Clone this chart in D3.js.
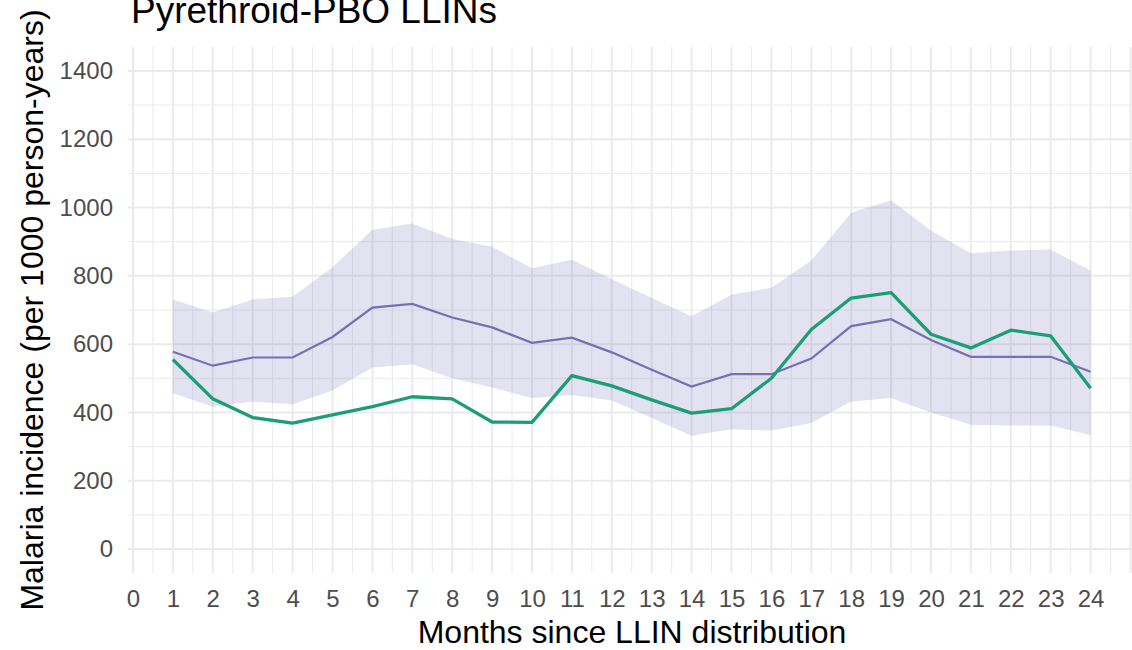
<!DOCTYPE html>
<html>
<head>
<meta charset="utf-8">
<script src="https://cdn.jsdelivr.net/npm/d3@7"></script>
<style>
  body { margin: 0; background: #fff; }
  svg { display: block; font-family: "Liberation Sans", Arial, sans-serif; }
</style>
</head>
<body>
<svg width="1132" height="650"></svg>
<script>
var months = d3.range(1, 25);
var modelMean = [578, 537, 561, 561, 621, 707, 718, 678, 649, 604, 619, 576,
  525, 476, 512, 512, 558, 653, 673, 612, 563, 563, 563, 519];
var modelLow = [456, 417, 432, 424, 464, 532, 541, 500, 473, 442, 451, 435,
  384, 332, 351, 347, 369, 432, 442, 400, 364, 362, 362, 333];
var modelHigh = [731, 693, 731, 739, 825, 935, 953, 908, 885, 822, 847, 790,
  735, 682, 745, 765, 845, 985, 1021, 932, 866, 874, 877, 816];
var observed = [555, 440, 385, 369, 393, 417, 446, 440, 372, 371, 508, 478,
  437, 398, 411, 500, 643, 735, 751, 629, 589, 641, 624, 471];
var xTicks = d3.range(0, 25);
var yTicks = [0, 200, 400, 600, 800, 1000, 1200, 1400];

var svg = d3.select("svg");

var x = d3.scaleLinear().domain([-0.125, 25]).range([128, 1130.5]);
var y = d3.scaleLinear().domain([-70, 1470]).range([573, 47]);

var pLeft = x.range()[0], pRight = 1132, pTop = y.range()[1], pBottom = y.range()[0];

var data = months.map(function(m, i) {
  return { m: m, mean: modelMean[i], lo: modelLow[i], hi: modelHigh[i], obs: observed[i] };
});

// grid
var grid = svg.append("g");
grid.selectAll(".xminor").data(d3.range(0.5, 25, 1)).enter().append("line")
  .attr("x1", function(d) { return x(d); }).attr("x2", function(d) { return x(d); })
  .attr("y1", pTop).attr("y2", pBottom)
  .attr("stroke", "#ebebeb").attr("stroke-width", 1);
grid.selectAll(".yminor").data(d3.range(100, 1400, 200)).enter().append("line")
  .attr("x1", pLeft).attr("x2", pRight)
  .attr("y1", function(d) { return y(d); }).attr("y2", function(d) { return y(d); })
  .attr("stroke", "#ebebeb").attr("stroke-width", 1);
grid.selectAll(".xmajor").data(xTicks.concat([25])).enter().append("line")
  .attr("x1", function(d) { return x(d); }).attr("x2", function(d) { return x(d); })
  .attr("y1", pTop).attr("y2", pBottom)
  .attr("stroke", "#ebebeb").attr("stroke-width", 2);
grid.selectAll(".ymajor").data(yTicks).enter().append("line")
  .attr("x1", pLeft).attr("x2", pRight)
  .attr("y1", function(d) { return y(d); }).attr("y2", function(d) { return y(d); })
  .attr("stroke", "#ebebeb").attr("stroke-width", 2);

// ribbon
svg.append("path").datum(data)
  .attr("fill", "#7570b3").attr("fill-opacity", 0.2)
  .attr("d", d3.area()
    .x(function(d) { return x(d.m); })
    .y0(function(d) { return y(d.lo); })
    .y1(function(d) { return y(d.hi); }));

svg.append("path").datum(data)
  .attr("fill", "none").attr("stroke", "#7570b3").attr("stroke-width", 2.2)
  .attr("d", d3.line().x(function(d) { return x(d.m); }).y(function(d) { return y(d.mean); }));

svg.append("path").datum(data)
  .attr("fill", "none").attr("stroke", "#1b9e77").attr("stroke-width", 3.3)
  .attr("stroke-linejoin", "round")
  .attr("d", d3.line().x(function(d) { return x(d.m); }).y(function(d) { return y(d.obs); }));

// axes
var xAxis = svg.append("g").attr("transform", "translate(0," + pBottom + ")")
  .call(d3.axisBottom(x).tickValues(xTicks).tickSize(0).tickPadding(17));
var yAxis = svg.append("g").attr("transform", "translate(" + (pLeft - 4) + ",0)")
  .call(d3.axisLeft(y).tickValues(yTicks).tickFormat(d3.format("d")).tickSize(0).tickPadding(11));
[xAxis, yAxis].forEach(function(a) {
  a.select(".domain").remove();
  a.selectAll("text").attr("fill", "#4d4d4d").style("font-size", "24px")
    .style("font-family", "'Liberation Sans', Arial, sans-serif");
});

svg.append("text")
  .attr("x", 632).attr("y", 643)
  .attr("text-anchor", "middle").attr("fill", "#000")
  .style("font-size", "32px")
  .text("Months since LLIN distribution");

svg.append("text")
  .attr("transform", "translate(43,310) rotate(-90)")
  .attr("text-anchor", "middle").attr("fill", "#000")
  .style("font-size", "32px")
  .text("Malaria incidence (per 1000 person-years)");

svg.append("text")
  .attr("x", 131).attr("y", 23)
  .attr("fill", "#000").style("font-size", "37px")
  .text("Pyrethroid-PBO LLINs");
</script>
</body>
</html>
